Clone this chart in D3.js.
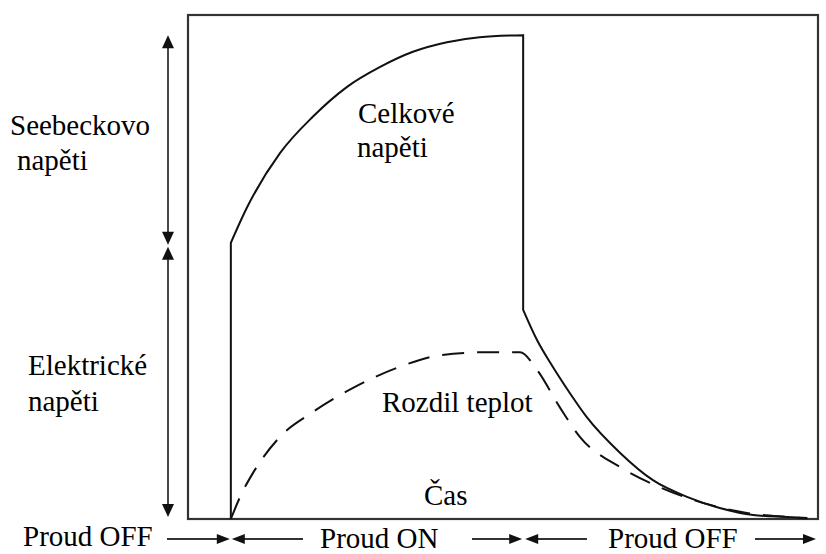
<!DOCTYPE html>
<html>
<head>
<meta charset="utf-8">
<script src="https://cdn.jsdelivr.net/npm/d3@7"></script>
</head>
<body style="margin:0">
<svg id="chart" width="826" height="554"></svg>
<script>
// time axis in % of the window, voltage in % of the box height
const timeRise = [6.8, 9.4, 14.6, 19.8, 25.2, 30.5, 35.7, 41.1, 46.3, 53.2];
const totalRise = [54.8, 61.9, 72.6, 79.8, 85.7, 89.7, 92.7, 94.6, 95.6, 96.0];
const timeDecay = [53.2, 55.4, 57.9, 60.6, 63.3, 68.6, 73.8, 79.2, 84.4, 89.7, 95.1, 98.3];
const totalDecay = [41.5, 35.5, 30.2, 25.0, 20.2, 13.1, 7.7, 4.4, 2.2, 0.8, 0.4, 0.2];
const timeTemp = [6.8, 8.5, 10.3, 14.6, 19.8, 26.2, 33.2, 40.0, 47.5, 52.7, 55.4, 59.0, 62.2, 68.6, 74.9, 81.7, 88.7, 95.1, 98.3];
const tempDiff = [0, 5.0, 9.1, 16.3, 21.2, 26.0, 30.0, 32.5, 33.1, 33.1, 29.6, 22.2, 16.3, 10.3, 6.3, 3.2, 1.2, 0.4, 0.1];

const svg = d3.select("#chart");

const x = d3.scaleLinear().domain([0, 100]).range([188, 818]);
const y = d3.scaleLinear().domain([0, 100]).range([519, 15]);

const tOn = timeRise[0], tOff = timeDecay[0];

// frame
svg.append("rect")
    .attr("x", x(0)).attr("y", y(100))
    .attr("width", x(100) - x(0)).attr("height", y(0) - y(100))
    .attr("fill", "none").attr("stroke", "#333").attr("stroke-width", 2.2);

const line = d3.line()
    .x(d => x(d[0]))
    .y(d => y(d[1]))
    .curve(d3.curveMonotoneX);

const rise = d3.zip(timeRise, totalRise);
const decay = d3.zip(timeDecay, totalDecay);
const temp = d3.zip(timeTemp, tempDiff);

// total voltage: step up, rise, step down, decay
const solidPath = `M${x(tOn)},${y(0)}` +
    line(rise).replace(/^M/, "L") +
    line(decay).replace(/^M/, "L");

svg.append("path")
    .attr("d", solidPath)
    .attr("fill", "none")
    .attr("stroke", "#111")
    .attr("stroke-width", 2);

svg.append("path")
    .attr("d", line(temp))
    .attr("fill", "none")
    .attr("stroke", "#111")
    .attr("stroke-width", 2)
    .attr("stroke-dasharray", "22,13");

// arrows
function arrowHead(px, py, dir) {
    const len = 13, hw = 6;
    let pts;
    if (dir === "up") pts = [[px, py], [px - hw, py + len], [px + hw, py + len]];
    if (dir === "down") pts = [[px, py], [px - hw, py - len], [px + hw, py - len]];
    if (dir === "right") pts = [[px, py], [px - len, py - 5], [px - len, py + 5]];
    if (dir === "left") pts = [[px, py], [px + len, py - 5], [px + len, py + 5]];
    svg.append("polygon")
        .attr("points", pts.map(p => p.join(",")).join(" "))
        .attr("fill", "#111");
}

function arrowLine(x1, y1, x2, y2) {
    svg.append("line")
        .attr("x1", x1).attr("y1", y1).attr("x2", x2).attr("y2", y2)
        .attr("stroke", "#333").attr("stroke-width", 1.8);
}

const ax = 168;
const yTop = y(d3.max(totalRise)), yMid = y(totalRise[0]) + 3, yBot = y(0) - 2;
// Seebeck voltage span
arrowLine(ax, yTop + 5, ax, yMid - 5);
arrowHead(ax, yTop, "up");
arrowHead(ax, yMid - 1, "down");
// electric voltage span
arrowLine(ax, yMid + 5, ax, yBot - 5);
arrowHead(ax, yMid + 1, "up");
arrowHead(ax, yBot, "down");

// current on/off along the time axis
const ay = 539;
arrowLine(167, ay, x(tOn) - 5, ay);
arrowHead(x(tOn) - 1, ay, "right");
arrowLine(303, ay, x(tOn) + 5, ay);
arrowHead(x(tOn) + 1, ay, "left");
arrowLine(472, ay, x(tOff) - 5, ay);
arrowHead(x(tOff) - 1, ay, "right");
arrowLine(587, ay, x(tOff) + 5, ay);
arrowHead(x(tOff) + 2, ay, "left");
arrowLine(755, ay, 810, ay);
arrowHead(816, ay, "right");

// labels
const labels = [
    { t: "Seebeckovo", x: 10, y: 135 },
    { t: "napěti", x: 17, y: 170 },
    { t: "Elektrické", x: 28, y: 375 },
    { t: "napěti", x: 28, y: 411 },
    { t: "Celkové", x: 358, y: 123 },
    { t: "napěti", x: 357, y: 157 },
    { t: "Rozdil teplot", x: 382, y: 412 },
    { t: "Čas", x: 424, y: 505 },
    { t: "Proud OFF", x: 23, y: 546 },
    { t: "Proud ON", x: 320, y: 548 },
    { t: "Proud OFF", x: 608, y: 548 }
];

svg.selectAll(null)
    .data(labels)
    .enter()
    .append("text")
    .attr("x", d => d.x)
    .attr("y", d => d.y)
    .attr("font-family", "Times New Roman")
    .attr("font-size", 29)
    .text(d => d.t);
</script>
</body>
</html>
